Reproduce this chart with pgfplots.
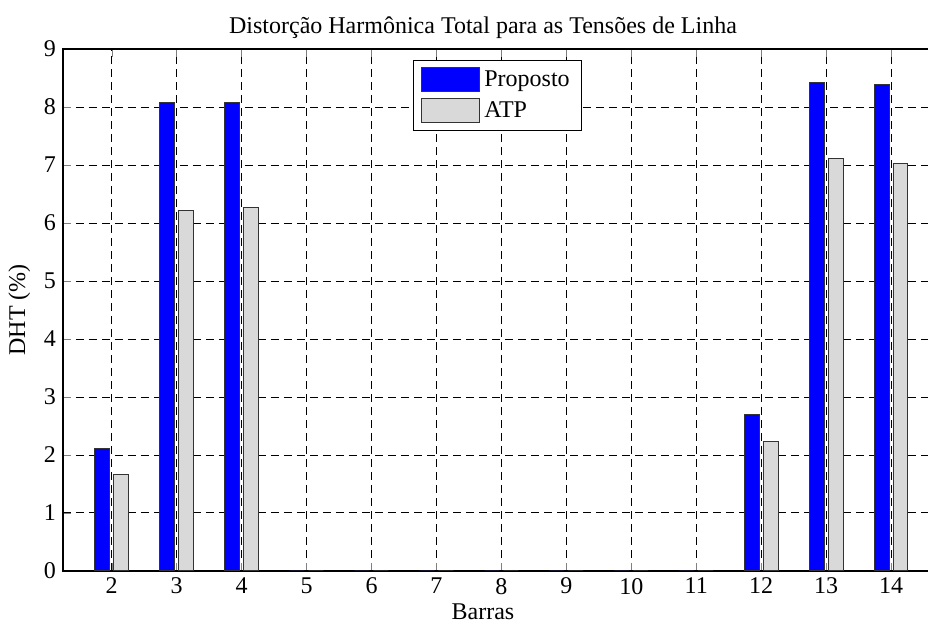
\documentclass[border=0pt]{standalone}
\usepackage{pgfplots}
\pgfplotsset{compat=1.18}
\usepackage{fontspec}
\setmainfont{Liberation Serif}

\definecolor{propblue}{rgb}{0,0,1}
\definecolor{atpgray}{rgb}{0.85,0.85,0.85}

\pgfplotstableread{
x   prop  atp
2   2.12  1.66
3   8.07  6.22
4   8.07  6.26
5   0     0
6   0     0
7   0     0
8   0     0
9   0     0
10  0     0
11  0     0
12  2.70  2.24
13  8.42  7.11
14  8.39  7.03
}\dht

\begin{document}
\begin{tikzpicture}
\begin{axis}[
  scale only axis,
  width=438.4pt, height=261pt,
  xmin=1.25, xmax=14.75,
  ymin=0, ymax=9,
  xtick={2,...,14}, ytick={0,...,9},
  tick align=inside, tick pos=both,
  major tick length=4pt,
  xmajorgrids, ymajorgrids,
  grid style={black, dash pattern=on 4pt off 2.5pt, line width=0.5pt},
  axis line style={black, line width=0.6pt},
  font=\fontsize{12}{14}\selectfont,
  /pgf/number format/assume math mode=true,
  ticklabel style={font=\fontsize{12}{14}\selectfont},
  title={Distorção Harmônica Total para as Tensões de Linha},
  title style={at={(0.479,1)}, anchor=south, yshift=-4.5pt, font=\fontsize{12}{14}\selectfont},
  xlabel={Barras},
  xlabel style={at={(ticklabel cs:0.479)}, anchor=near ticklabel, yshift=0pt, inner ysep=1pt},
  ylabel={DHT (\%)},
  ylabel style={yshift=0pt},
  bar width=0.23,
  legend style={at={(axis cs:6.635,8.81)}, anchor=north west,
    draw=black, line width=0.6pt, font=\fontsize{12}{14}\selectfont,
    row sep=2pt, inner xsep=4pt, inner ysep=3pt,
    cells={anchor=west}},
  legend image code/.code={\draw[#1, line width=0.5pt] (0pt,-6pt) rectangle (29pt,6pt);},
]
\addplot[ybar, bar shift=-0.145, fill=propblue, draw=black!80, line width=0.5pt] table[x=x, y=prop] {\dht};
\addlegendentry{Proposto}
\addplot[ybar, bar shift=0.145, fill=atpgray, draw=black!80, line width=0.5pt] table[x=x, y=atp] {\dht};
\addlegendentry{ATP}
\end{axis}
\pgfresetboundingbox
\path[use as bounding box] (current axis.south west) ++(-31.5pt,-28pt) rectangle ++(464pt,313.5pt);
\end{tikzpicture}
\end{document}
